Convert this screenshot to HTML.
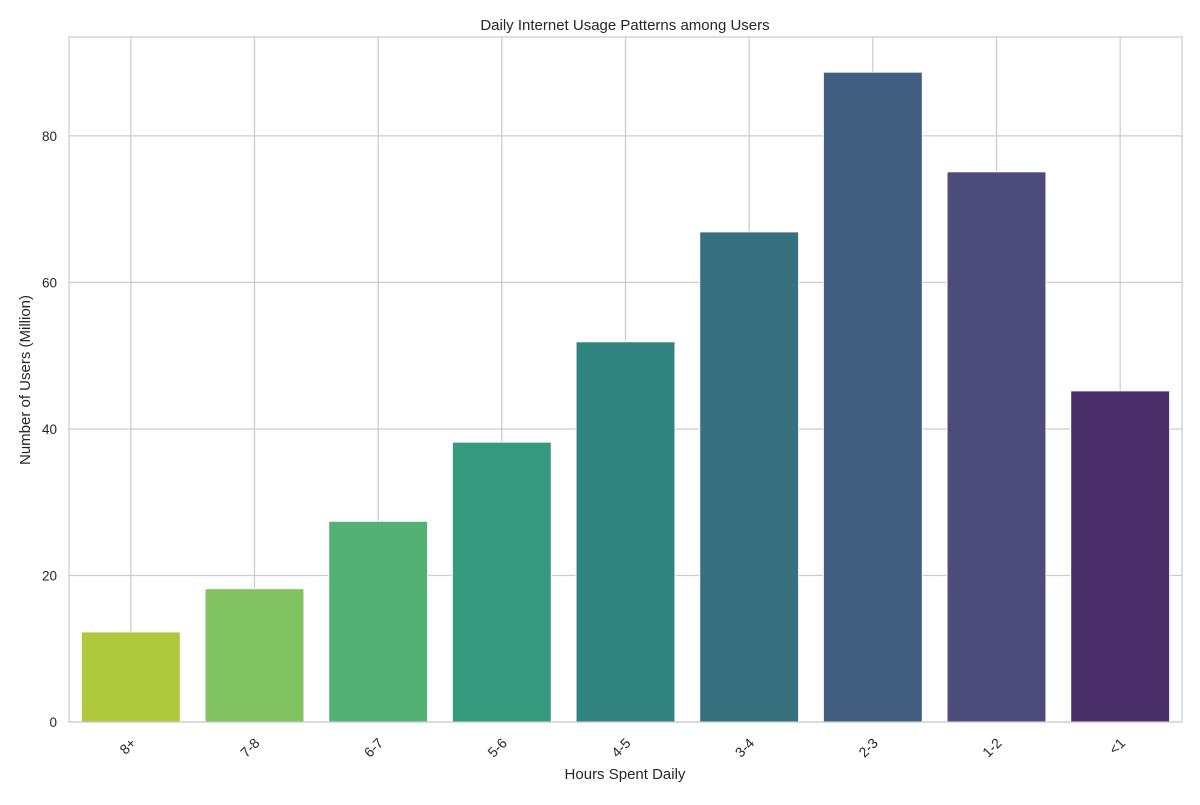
<!DOCTYPE html>
<html><head><meta charset="utf-8"><style>
body{margin:0;background:#fff;font-family:"Liberation Sans","DejaVu Sans",sans-serif;}
svg text{font-family:"Liberation Sans","DejaVu Sans",sans-serif;fill:#262626;}
</style></head><body>
<svg id="chart" width="1200" height="800" xmlns="http://www.w3.org/2000/svg">
<rect width="1200" height="800" fill="#fff"/>
<g id="grid"></g><g id="bars"></g><g id="ticks"></g>
<rect x="69" y="37" width="1113" height="685" fill="none" stroke="#cccccc" stroke-width="1.25"/>
<text x="625" y="30" text-anchor="middle" font-size="15">Daily Internet Usage Patterns among Users</text>
<text x="625" y="779" text-anchor="middle" font-size="15">Hours Spent Daily</text>
<text transform="translate(30,380) rotate(-90)" text-anchor="middle" font-size="15">Number of Users (Million)</text>
</svg>
<script>
const categories=["8+","7-8","6-7","5-6","4-5","3-4","2-3","1-2","<1"];
const values=[12.3,18.2,27.4,38.2,51.9,66.9,88.7,75.1,45.2];
const colors=["#b0c93c","#80c25f","#54b176","#35997d","#30837f","#37717f","#415e80","#4b4b7c","#4a2e6a"];
const yTicks=[0,20,40,60,80];
const L=69,R=1182,T=37,B=722,yMax=93.5;
const ns="http://www.w3.org/2000/svg";
const y=v=>B-(v/yMax)*(B-T);
const band=(R-L)/categories.length;
const xc=i=>L+band*(i+0.5);
function mk(tag,attrs,parent){const e=document.createElementNS(ns,tag);for(const k in attrs)e.setAttribute(k,attrs[k]);document.getElementById(parent).appendChild(e);return e;}
yTicks.forEach(t=>{
  const l=mk('line',{x1:L,x2:R,y1:y(t),y2:y(t),stroke:'#cccccc','stroke-width':1.25},'grid');
  
  
  const tx=mk('text',{x:L-12,y:y(t)+5,'text-anchor':'end','font-size':13.5},'ticks');
  tx.textContent=t;
  
  
});
categories.forEach((c,i)=>{
  const g=mk('line',{x1:xc(i),x2:xc(i),y1:T,y2:B,stroke:'#cccccc','stroke-width':1.25},'grid');
  
  
  const w=band*0.8;
  const r=mk('rect',{x:xc(i)-w/2,y:y(values[i]),width:w,height:B-y(values[i]),fill:colors[i],stroke:'#ffffff','stroke-width':1},'bars');
  
  
  const tx=mk('text',{x:0,y:0,'text-anchor':'end','font-size':14,transform:`translate(${xc(i)+6},${B+22}) rotate(-45)`},'ticks');
  tx.textContent=c;
  
  
});
</script>
</body></html>
